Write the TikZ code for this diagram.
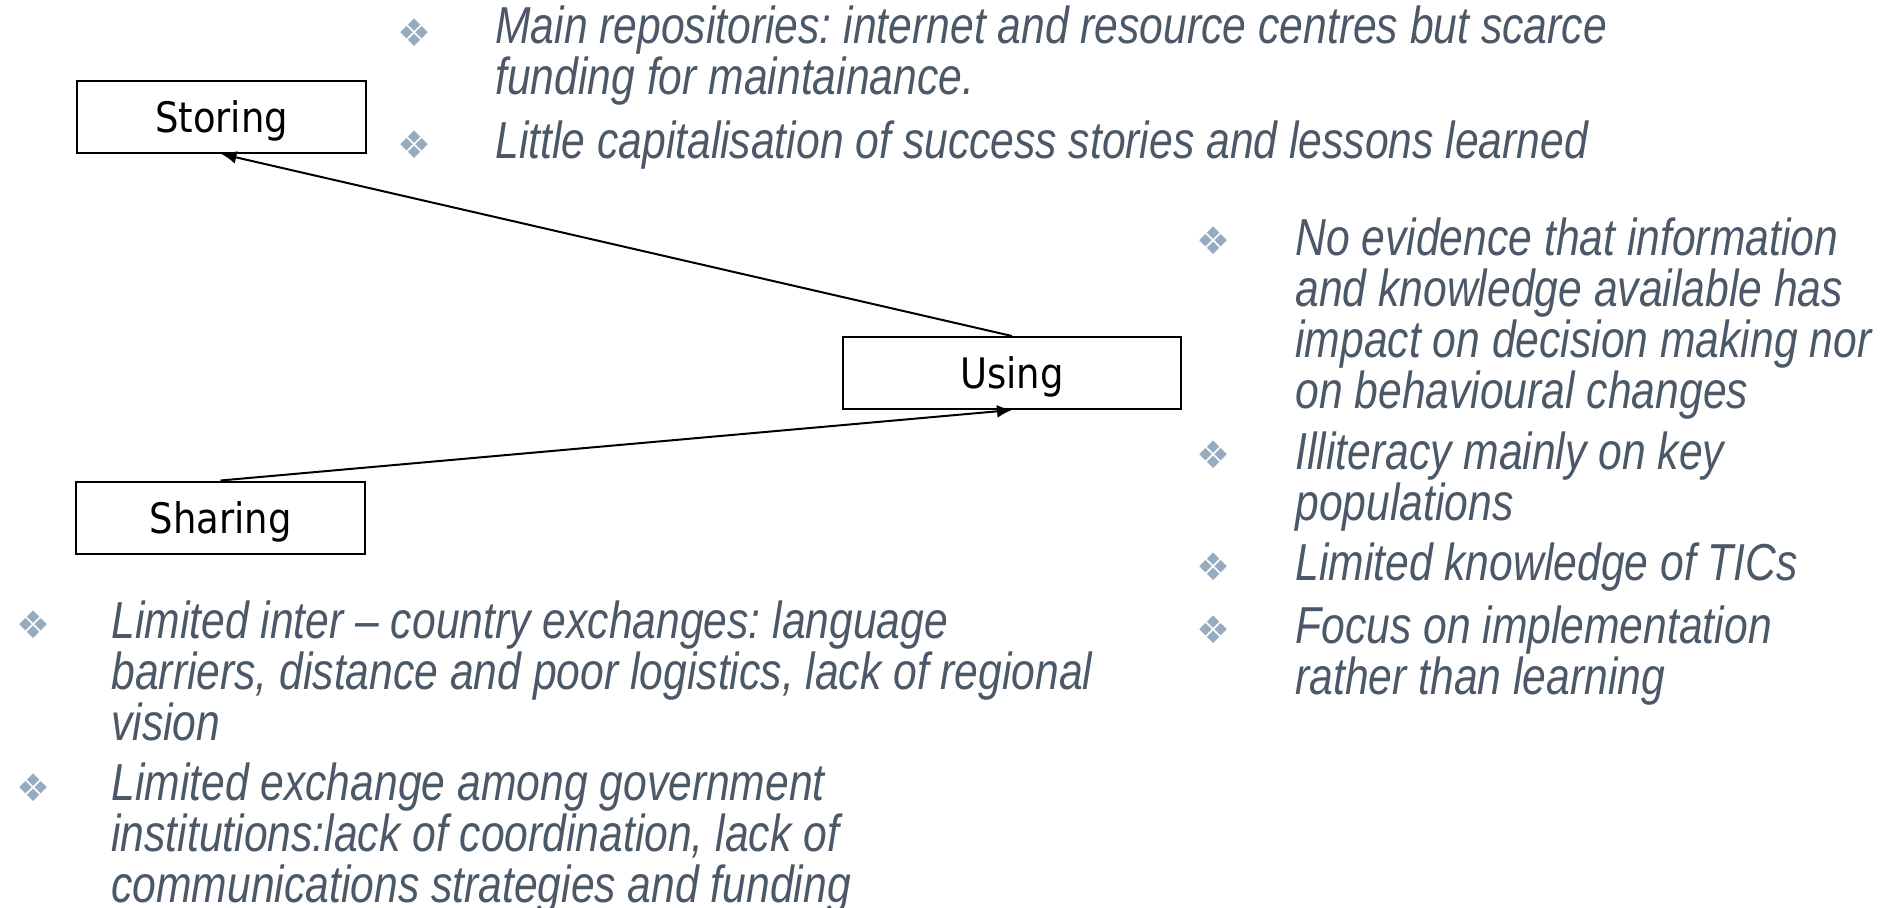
\documentclass[tikz,border=0pt]{standalone}
\usepackage{fontspec}
\setmainfont{Liberation Sans}
\newfontfamily\notefont{Liberation Sans}[FakeStretch=0.82]
\newfontfamily\boxfont{DejaVu Sans}[FakeStretch=0.88]
\newfontfamily\dingfont{DejaVu Sans}
\usetikzlibrary{arrows.meta}
\definecolor{notegray}{HTML}{4B5868}
\definecolor{bulletblue}{HTML}{97AABF}
\frenchspacing

\tikzset{
  stage/.style={draw, line width=1pt, minimum width=144.5pt, minimum height=36pt, inner sep=0pt,
    text depth=0pt, font=\boxfont\fontsize{21}{25}\selectfont},
  note/.style={anchor=base west, align=left, inner sep=0pt, text=notegray,
    font=\notefont\itshape\fontsize{26}{25.5}\selectfont},
  bul/.style={text=bulletblue, inner sep=0pt, font=\dingfont\fontsize{19}{19}\selectfont},
  flow/.style={line width=1pt, -{Latex[length=7.5pt,width=6.5pt]}}
}

\begin{document}
\begin{tikzpicture}[x=0.5pt, y=-0.5pt]
        \useasboundingbox (0,0) rectangle (1896,907);
        % Stages
        \node[stage] (storing) at (221.5,117) {Storing};
        \node[stage, minimum width=169pt] (using) at (1012,373) {Using};
        \node[stage] (sharing) at (220.5,517.5) {Sharing};
        % Flows
        \draw[flow] (using.north) -- (storing.south);
        \draw[flow] (sharing.north) -- (using.south);
        % Notes on storing (placed by last baseline)
        \node[bul] at (415,33) {❖};
        \node[note] (store1) at (495,94) {Main repositories: internet and resource centres but scarce\\funding for maintainance.};
        \node[bul] at (415,145) {❖};
        \node[note] (store2) at (495,158) {Little capitalisation of success stories and lessons learned};
        % Notes on using
        \node[bul] at (1214,241) {❖};
        \node[note] (use1) at (1295,408) {No evidence that information\\and knowledge available has\\impact on decision making nor\\on behavioural changes};
        \node[bul] at (1214,455) {❖};
        \node[note] (use2) at (1295,520) {Illiteracy mainly on key\\populations};
        \node[bul] at (1214,567) {❖};
        \node[note] (use3) at (1295,580) {Limited knowledge of TICs};
        \node[bul] at (1214,630) {❖};
        \node[note] (use4) at (1295,694) {Focus on implementation\\rather than learning};
        % Notes on sharing
        \node[bul] at (34,625) {❖};
        \node[note] (share1) at (111,740) {Limited inter – country exchanges: language\\barriers, distance and poor logistics, lack of regional\\vision};
        \node[bul] at (34,788) {❖};
        \node[note] (share2) at (111,902) {Limited exchange among government\\institutions:lack of coordination, lack of\\communications strategies and funding};
    \end{tikzpicture}
\end{document}
